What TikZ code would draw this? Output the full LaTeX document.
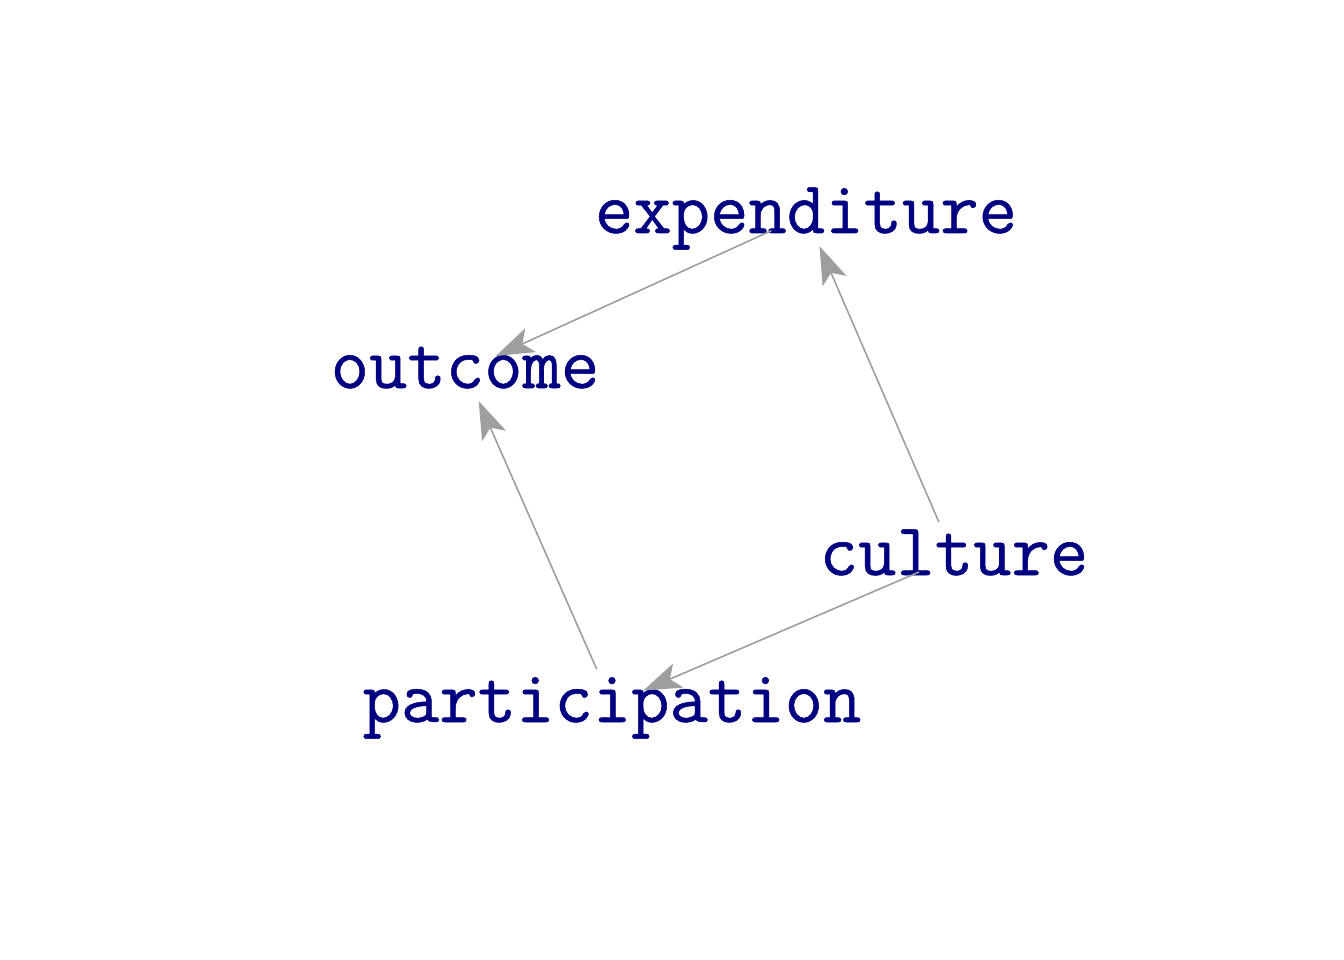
\documentclass[tikz,border=0pt]{standalone}
\usepackage{fontspec}
\newfontfamily\lmm{Latin Modern Mono}[FakeBold=0.7]
\usetikzlibrary{arrows.meta}
\definecolor{lbl}{HTML}{000080}
\definecolor{edg}{HTML}{9E9E9E}
\tikzset{
  lab/.style={anchor=base, inner sep=0pt, text=lbl, font=\lmm\fontsize{74.5}{74.5}\selectfont},
  edge/.style={draw=edg, line width=1.6pt, shorten <=38pt, shorten >=34pt,
    -{Stealth[length=38pt, width=26pt, inset=9pt]}}
}
\begin{document}
\begin{tikzpicture}[x=1pt,y=-1pt]
\useasboundingbox (0,0) rectangle (1344,960);
\node[lab] (expenditure) at (806,233) {expenditure};
\node[lab] (outcome) at (465,388) {outcome};
\node[lab] (culture) at (954,575) {culture};
\node[lab] (participation) at (612,722) {participation};
\coordinate (ec) at (806,215);
\coordinate (oc) at (465,370);
\coordinate (cc) at (954,557);
\coordinate (pc) at (612,704);
\draw[edge] (ec) -- (oc);
\draw[edge] (pc) -- (oc);
\draw[edge] (cc) -- (ec);
\draw[edge] (cc) -- (pc);
\end{tikzpicture}
\end{document}
